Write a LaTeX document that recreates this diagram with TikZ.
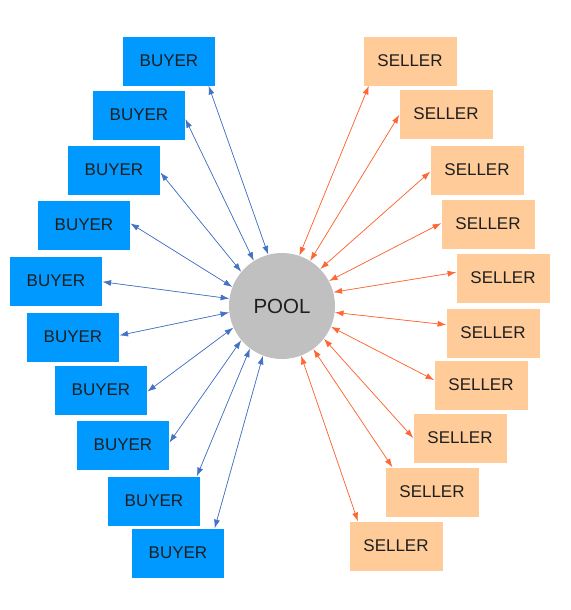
\documentclass[tikz,border=0pt]{standalone}
\usepackage{fontspec}
\setmainfont{Liberation Sans}
\usetikzlibrary{arrows.meta}
\definecolor{buyfill}{RGB}{0,153,255}
\definecolor{sellfill}{RGB}{255,204,153}
\definecolor{poolfill}{RGB}{192,192,192}
\definecolor{buyline}{RGB}{68,114,196}
\definecolor{sellline}{RGB}{255,102,51}
\definecolor{labeltext}{RGB}{30,30,30}
\tikzset{>={Latex[length=2.6mm,width=1.8mm]}}
\tikzset{
  buyer/.style={fill=buyfill, text=labeltext, minimum width=2.77cm, minimum height=1.47cm, inner sep=0pt, font=\fontsize{14.5}{17}\selectfont},
  seller/.style={fill=sellfill, text=labeltext, minimum width=2.79cm, minimum height=1.47cm, inner sep=0pt, font=\fontsize{14.5}{17}\selectfont},
  buylink/.style={<->, draw=buyline, fill=buyline, line width=0.6pt},
  selllink/.style={<->, draw=sellline, fill=sellline, line width=0.6pt}
}

\begin{document}
\begin{tikzpicture}[x=0.03cm,y=-0.03cm]
            \useasboundingbox (0,0) rectangle (571,610);
            \node[circle, fill=poolfill, minimum size=3.18cm, inner sep=0pt, text=labeltext, font=\fontsize{17.5}{20}\selectfont] (pool) at (282,306) {POOL};
            % buyers
            \node[buyer] (b1) at (169,61) {BUYER};
            \node[buyer] (b2) at (139,115) {BUYER};
            \node[buyer] (b3) at (114,170) {BUYER};
            \node[buyer] (b4) at (84,225) {BUYER};
            \node[buyer] (b5) at (56,281) {BUYER};
            \node[buyer] (b6) at (73,337) {BUYER};
            \node[buyer] (b7) at (101,390) {BUYER};
            \node[buyer] (b8) at (123,445) {BUYER};
            \node[buyer] (b9) at (154,501) {BUYER};
            \node[buyer] (b10) at (178,553) {BUYER};
            % sellers
            \node[seller] (s1) at (410,61) {SELLER};
            \node[seller] (s2) at (446,114) {SELLER};
            \node[seller] (s3) at (477,170) {SELLER};
            \node[seller] (s4) at (488,224) {SELLER};
            \node[seller] (s5) at (503,278) {SELLER};
            \node[seller] (s6) at (493,333) {SELLER};
            \node[seller] (s7) at (481,385) {SELLER};
            \node[seller] (s8) at (460,438) {SELLER};
            \node[seller] (s9) at (432,492) {SELLER};
            \node[seller] (s10) at (396,546) {SELLER};
            \draw[buylink] (b1.-32) -- (pool.105);
            \draw[buylink] (b2.-5) -- (pool.122);
            \draw[buylink] (b3.-3) -- (pool.140);
            \draw[buylink] (b4.2) -- (pool.159);
            \draw[buylink] (b5.-1) -- (pool.172);
            \draw[buylink] (b6.2) -- (pool.187);
            \draw[buylink] (b7.-2) -- (pool.204);
            \draw[buylink] (b8.3) -- (pool.220);
            \draw[buylink] (b9.30) -- (pool.233);
            \draw[buylink] (b10.34) -- (pool.249);
            \draw[selllink] (s1.-149) -- (pool.71);
            \draw[selllink] (s2.181) -- (pool.58);
            \draw[selllink] (s3.182) -- (pool.44);
            \draw[selllink] (s4.179) -- (pool.28);
            \draw[selllink] (s5.173) -- (pool.15);
            \draw[selllink] (s6.170) -- (pool.-7);
            \draw[selllink] (s7.174) -- (pool.-23);
            \draw[selllink] (s8.180) -- (pool.-38);
            \draw[selllink] (s9.148) -- (pool.-54);
            \draw[selllink] (s10.147) -- (pool.-69);
        \end{tikzpicture}
\end{document}
